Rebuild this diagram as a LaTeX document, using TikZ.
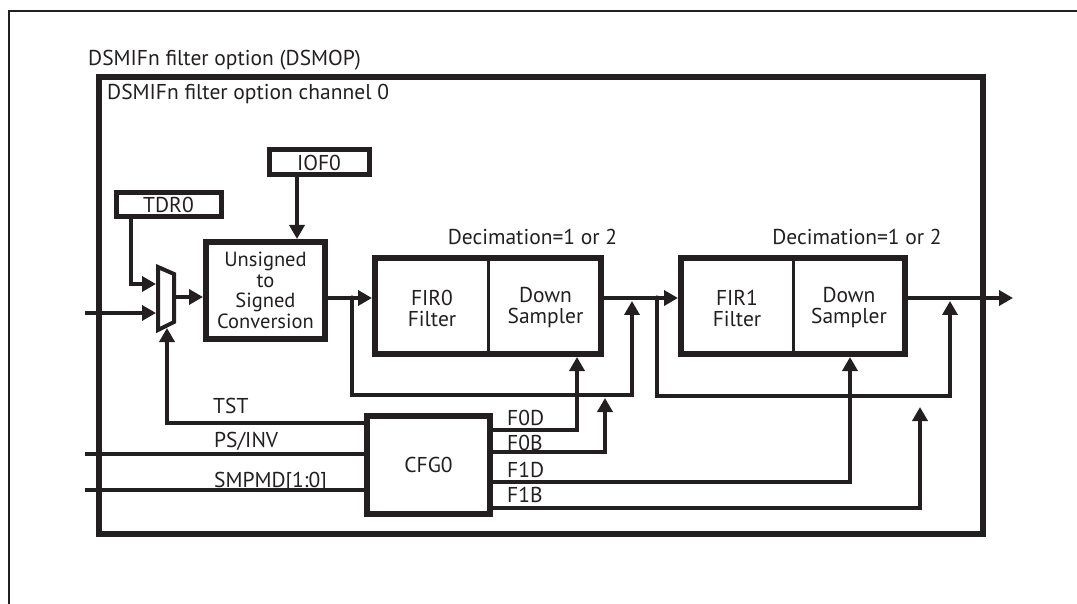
\documentclass[tikz,border=0pt]{standalone}
\usepackage{fontspec}
\setmainfont{PT Sans}
\usetikzlibrary{arrows.meta}
\definecolor{ink}{HTML}{231F20}
\tikzset{
  blk/.style={draw=ink, line width=6pt, inner sep=0pt, align=center},
  reg/.style={draw=ink, line width=5pt, inner sep=0pt},
  wire/.style={draw=ink, line width=3.5pt},
  sig/.style={wire, -{Triangle[length=14pt, width=15pt]}},
  lbl/.style={inner sep=0pt, text=ink},
}
\begin{document}
\begin{tikzpicture}[x=1pt, y=-1pt, font=\fontsize{21.5}{21}\selectfont, color=ink]
    \useasboundingbox (0,0) rectangle (1077,604);
    % frames
    \draw[line width=1.5pt] (9,604) -- (9,11) -- (1077,11);
    \draw (88,66) node(top)[lbl, anchor=base west]{DSMIFn filter option (DSMOP)};
    \draw[line width=6pt] (98.5,77.5) rectangle (983,534);
    \draw (107,100) node(chan)[lbl, anchor=base west]{DSMIFn filter option channel 0};
    % registers
    \draw (168.5,205) node(tdr0)[reg, minimum width=105, minimum height=24]{TDR0};
    \draw (319,162.5) node(iof0)[reg, minimum width=100, minimum height=25]{IOF0};
    % mux
    \draw[line width=4pt] (158,267) -- (174,274) -- (174,322) -- (158,330) -- cycle;
    \coordinate (muxa) at (156,284);
    \coordinate (muxb) at (156,313);
    \coordinate (muxo) at (174,297);
    \coordinate (muxs) at (167,328);
    % blocks
    \draw (265.5,290.5) node(usc)[blk, minimum width=119, minimum height=97,
        font=\fontsize{20.5}{20.5}\selectfont]{Unsigned\\to\\Signed\\Conversion};
    \draw (488,306) node(fir0)[blk, minimum width=226, minimum height=96]{};
    \draw[line width=3pt] (fir0.north) -- (fir0.south);
    \draw (432,308) node(fir0f)[lbl, align=center]{FIR0\\Filter};
    \draw (545.5,308) node(fir0d)[lbl, align=center]{Down\\Sampler};
    \draw (532.5,245) node(dec0)[lbl, anchor=base]{Decimation=1 or 2};
    \draw (793,306) node(fir1)[blk, minimum width=224, minimum height=96]{};
    \draw[line width=3pt] (fir1.north) -- (fir1.south);
    \draw (737,308) node(fir1f)[lbl, align=center]{FIR1\\Filter};
    \draw (849,308) node(fir1d)[lbl, align=center]{Down\\Sampler};
    \draw (857,245) node(dec1)[lbl, anchor=base]{Decimation=1 or 2};
    \draw (428.5,465) node(cfg0)[blk, minimum width=123, minimum height=98]{CFG0};
    % control labels
    \draw (213,413) node(tst)[lbl, anchor=base west]{TST};
    \draw (214,447) node(psinv)[lbl, anchor=base west]{PS/INV};
    \draw (214,487) node(smpmd)[lbl, anchor=base west]{SMPMD[1:0]};
    \draw (507,425) node(f0d)[lbl, anchor=base west]{F0D};
    \draw (507,450) node(f0b)[lbl, anchor=base west]{F0B};
    \draw (507,477) node(f1d)[lbl, anchor=base west]{F1D};
    \draw (507,502) node(f1b)[lbl, anchor=base west]{F1B};
    % input side
    \coordinate (din) at (85,313);
    \coordinate (iofx) at ([xshift=-22pt]iof0.south);
    \draw[sig] (din) -- (muxb);
    \draw[sig] ([xshift=-37.5pt]tdr0.south) |- (muxa);
    \draw[sig] (iofx) -- (iofx |- usc.north);
    \draw[sig] (muxo) -- (usc.west |- muxo);
    % data path
    \coordinate (bus) at (0,298);
    \coordinate (j0) at (352,298);
    \coordinate (j1) at (657,298);
    \coordinate (m0) at (632,301);
    \coordinate (m1) at (950,301);
    \coordinate (dout) at (1013,298);
    \draw[sig] (usc.east |- bus) -- (fir0.west |- bus);
    \draw[sig] (fir0.east |- bus) -- (fir1.west |- bus);
    \draw[sig] (fir1.east |- bus) -- (dout);
    \fill (j0) circle (2.6pt);
    \fill (j1) circle (2.6pt);
    % bypass
    \draw[sig] (j0) -- ++(0,97) -| (m0);
    \draw[sig] (j1) -- ++(0,98) -| (m1);
    % control
    \coordinate (ps) at (85,454);
    \coordinate (sm) at (85,490);
    \draw[wire] (ps) -- (cfg0.west |- ps);
    \draw[wire] (sm) -- (cfg0.west |- sm);
    \draw[sig] (cfg0.west |- 0,423) -| (muxs);
    \draw[sig] (cfg0.east |- 0,430) -| (fir0.south -| 577,0);
    \draw[sig] (cfg0.east |- 0,452) -| (605,398);
    \draw[sig] (cfg0.east |- 0,482) -| (fir1.south -| 850,0);
    \draw[sig] (cfg0.east |- 0,508) -| (920,407);
\end{tikzpicture}
\end{document}
